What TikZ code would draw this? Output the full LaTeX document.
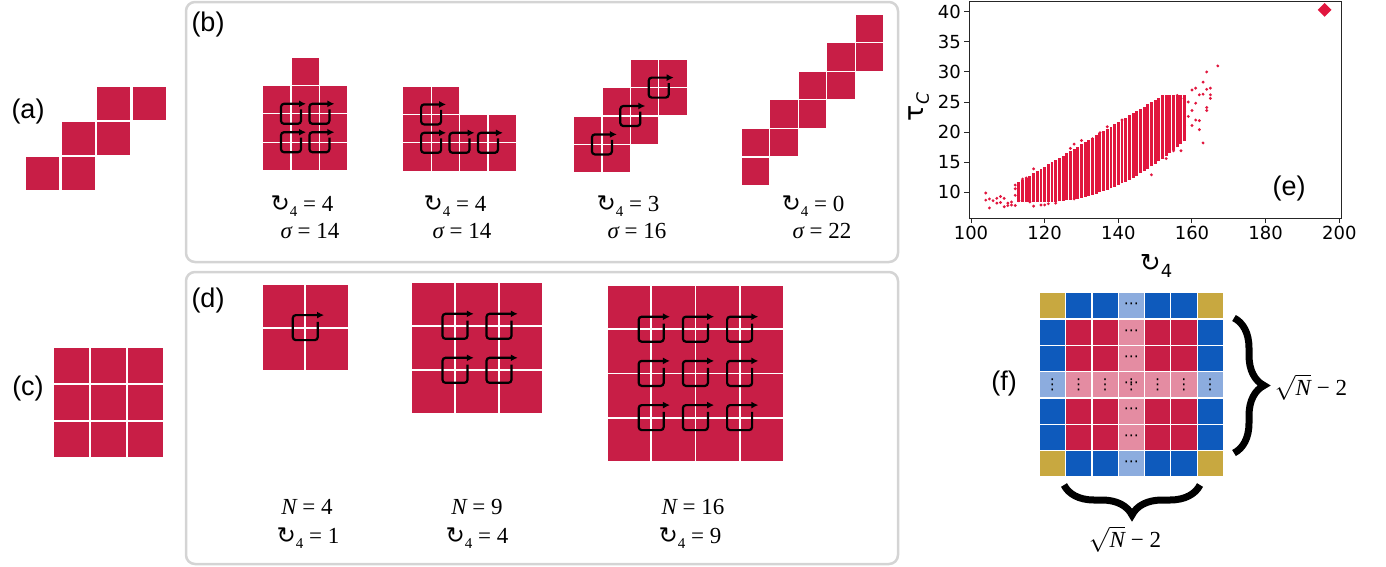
\documentclass[tikz,border=0pt]{standalone}
\usepackage{fontspec}
\usepackage{tikz}
\usetikzlibrary{positioning}
\usetikzlibrary{arrows.meta}
\usetikzlibrary{shapes.geometric}
\usetikzlibrary{decorations.pathreplacing}

\newfontfamily\tagfont{Liberation Sans}
\newfontfamily\plotfont{DejaVu Sans}
\newfontfamily\labelfont{Liberation Serif}
\newcommand{\spinsym}{{\plotfont ↻}}
\newcommand{\spinlbl}[1]{\spinsym\raisebox{-5pt}{\fontsize{15}{16}\selectfont #1}}
\newcommand{\rootlbl}{$\sqrt{\mbox{\itshape N}}$ − 2}

\definecolor{cellred}{RGB}{200,30,70}
\definecolor{plotred}{RGB}{225,22,62}
\definecolor{framegray}{RGB}{212,212,212}
\definecolor{edgeblue}{RGB}{14,90,188}
\definecolor{paleblue}{RGB}{140,172,222}
\definecolor{palepink}{RGB}{228,140,162}
\definecolor{cornergold}{RGB}{200,168,64}

\tikzset{
  cell/.style={fill=cellred, draw=white, line width=1.2pt},
  spinloop/.style={draw=black, line width=2.2pt, rounded corners=3pt, -{Latex[length=7pt,width=7pt]}},
  panelbox/.style={draw=framegray, line width=2.5pt, rounded corners=9pt},
  tag/.style={font=\tagfont\fontsize{27}{30}\selectfont, inner sep=0pt},
  lbl/.style={font=\labelfont\fontsize{23}{26}\selectfont, inner sep=0pt},
  ticklbl/.style={font=\plotfont\fontsize{18}{20}\selectfont, inner sep=3pt},
  dotbar/.style={draw=plotred, line width=2.9pt},
  bigbrace/.style={decorate, decoration={brace, amplitude=30pt}, line width=7pt},
  celldots/.style={font=\plotfont\fontsize{15}{16}\selectfont, inner sep=0pt},
}
% plaquette loop: centre x, centre y, half side
\newcommand{\plaquette}[3]{\draw[spinloop] (#1+#3,#2-0.45*#3) -- (#1+#3,#2+#3) -- (#1-#3,#2+#3) -- (#1-#3,#2-#3) -- (#1+1.5*#3,#2-#3);}

\begin{document}
\begin{tikzpicture}[x=1pt, y=-1pt]
\useasboundingbox (0,0) rectangle (1386,566);

% ---------- (a) and (c)
\node[tag] (tag-a) at (28,112) {(a)};
\foreach \c/\r in {0/2,1/2,1/1,2/1,2/0,3/0} {
    \draw[cell, line width=2.5pt] (25+35.5*\c,86+35*\r) rectangle ++(35.5,35);
}
\node[tag] (tag-c) at (28,389) {(c)};
\foreach \c in {0,1,2} {
    \foreach \r in {0,1,2} {
        \draw[cell, line width=1.8pt] (53+37*\c,347+37*\r) rectangle ++(37,37);
    }
}

% ---------- (b)
\draw[panelbox] (186,2) rectangle (898,262);
\node[tag] (tag-b) at (208,25) {(b)};
\foreach \c/\r in {1/0, 0/1,1/1,2/1, 0/2,1/2,2/2, 0/3,1/3,2/3} {
    \draw[cell] (262.6+28.4*\c,57+28.4*\r) rectangle ++(28.4,28.4); % first
}
\foreach \c/\r in {1/2,2/2,1/3,2/3} {
    \plaquette{262.6+28.4*\c}{57+28.4*\r}{10}
}
\foreach \c/\r in {0/0,1/0, 0/1,1/1,2/1,3/1, 0/2,1/2,2/2,3/2} {
    \draw[cell] (402.7+28.4*\c,86+28.4*\r) rectangle ++(28.4,28.4); % second
}
\foreach \c/\r in {1/1,1/2,2/2,3/2} {
    \plaquette{402.7+28.4*\c}{86+28.4*\r}{10}
}
\foreach \c/\r in {2/0,3/0, 1/1,2/1,3/1, 0/2,1/2,2/2, 0/3,1/3} {
    \draw[cell] (573.5+28.4*\c,59.2+28.4*\r) rectangle ++(28.4,28.4); % third
}
\foreach \c/\r in {3/1,2/2,1/3} {
    \plaquette{573.5+28.4*\c}{59.2+28.4*\r}{10}
}
\foreach \c in {0,...,4} {
    \draw[cell] (741+28.6*\c,14+28.6*4-28.6*\c) rectangle ++(28.6,28.6); % fourth
    \draw[cell] (741+28.6*\c,14+28.6*5-28.6*\c) rectangle ++(28.6,28.6);
}
\node[lbl] (b1-top) at (302,206) {\spinlbl{4} = 4};
\node[lbl] (b1-bot) at (310,231) {\itshape σ\upshape\ = 14};
\node[lbl] (b2-top) at (455,206) {\spinlbl{4} = 4};
\node[lbl] (b2-bot) at (462,231) {\itshape σ\upshape\ = 14};
\node[lbl] (b3-top) at (628,206) {\spinlbl{4} = 3};
\node[lbl] (b3-bot) at (637,231) {\itshape σ\upshape\ = 16};
\node[lbl] (b4-top) at (813,206) {\spinlbl{4} = 0};
\node[lbl] (b4-bot) at (822,231) {\itshape σ\upshape\ = 22};

% ---------- (d)
\draw[panelbox] (186,272) rectangle (898,564);
\node[tag] (tag-d) at (208,301) {(d)};
\foreach \c in {0,1} {
    \foreach \r in {0,1} {
        \draw[cell, line width=1.8pt] (261.7+43.6*\c,284+43.6*\r) rectangle ++(43.6,43.6);
    }
}
\plaquette{305.3}{327.6}{12.5}
\foreach \c in {0,1,2} {
    \foreach \r in {0,1,2} {
        \draw[cell, line width=1.8pt] (411+44*\c,282.3+44*\r) rectangle ++(44,44);
    }
}
\foreach \c in {1,2} {
    \foreach \r in {1,2} {
        \plaquette{411+44*\c}{282.3+44*\r}{12.5}
    }
}
\foreach \c in {0,...,3} {
    \foreach \r in {0,...,3} {
        \draw[cell, line width=1.8pt] (607+44.2*\c,285+44.2*\r) rectangle ++(44.2,44.2);
    }
}
\foreach \c in {1,2,3} {
    \foreach \r in {1,2,3} {
        \plaquette{607+44.2*\c}{285+44.2*\r}{12.5}
    }
}
\node[lbl] (d1-top) at (307,507) {\itshape N\upshape\ = 4};
\node[lbl] (d1-bot) at (308,538) {\spinlbl{4} = 1};
\node[lbl] (d2-top) at (477,507) {\itshape N\upshape\ = 9};
\node[lbl] (d2-bot) at (477,538) {\spinlbl{4} = 4};
\node[lbl] (d3-top) at (693,507) {\itshape N\upshape\ = 16};
\node[lbl] (d3-bot) at (690,538) {\spinlbl{4} = 9};

% ---------- (e) scatter
\begin{scope}[shift={(602.7,252.5)}, x=3.683pt, y=6.02pt]
\foreach \x in {113,...,158} {
    \pgfmathsetmacro\lo{8.4+0.007*max(\x-120,0)^2}
    \pgfmathsetmacro\hi{min(11.3+0.37*(\x-112),26.2)}
    \draw[dotbar] (\x,\lo) -- (\x,\hi);
}
\foreach \x/\t in {104/9.9,104/8.7,105/8.9,105/7.4,106/8.6,107/8.2,107/9.0,108/8.3,
    108/9.3,109/7.6,109/9.0,110/7.8,110/8.2,111/8.4,111/7.9,112/11.2,112/10.6,112/7.8,
    112/9.5,113/8.6,114/12.2,115/12.4,116/8.4,117/7.7,117/13.9,119/7.9,120/7.9,121/8.1,
    123/8.2,127/17.3,128/8.9,128/18.0,130/18.6,133/18.9,135/19.9,137/20.9,141/22.0,
    149/12.9,152/25.9,153/15.6,155/16.9,157/16.9,158/21.1,158/23.5,159/25.0,159/22.6,
    160/21.1,160/27.0,160/23.6,161/27.3,161/22.0,162/20.4,162/26.2,163/28.3,163/18.2,
    163/26.3,164/30.0,164/24.1,164/27.1,164/23.6,165/27.3,165/26.2,165/25.6,167/31.0,
    161/24.8,162/21.9,157/25.6,156/26.1} {
    \fill[plotred] (\x,\t) circle (1.6pt);
}
\node[diamond, fill=plotred, minimum size=14pt, inner sep=0pt] (best) at (196,40.3) {};
\draw[black!85, line width=1pt] (99.46,5.73) rectangle (200.65,41.77);
\foreach \x in {100,120,...,200} {
    \draw[black!85, line width=1pt] (\x,5.73) -- (\x,4.9);
    \node[ticklbl, anchor=north] (xt\x) at (\x,4.9) {\x};
}
\foreach \t in {10,15,...,40} {
    \draw[black!85, line width=1pt] (99.46,\t) -- (98.1,\t);
    \node[ticklbl, anchor=east] (yt\t) at (98.1,\t) {\t};
}
\end{scope}
\node[rotate=90, font=\plotfont\fontsize{27}{30}\selectfont] (ylab) at (919,107)
    {τ\raisebox{-5pt}{\fontsize{17}{20}\selectfont\itshape C}};
\node[font=\plotfont\fontsize{25}{28}\selectfont] (xlab) at (1156,266)
    {↻\raisebox{-6pt}{\fontsize{18}{20}\selectfont 4}};
\node[tag] (tag-e) at (1289,189) {(e)};

% ---------- (f)
\node[tag] (tag-f) at (1004,384) {(f)};
\foreach \i in {0,...,6} {
    \foreach \j in {0,...,6} {
        \pgfmathtruncatemacro\rimk{(\i==0||\i==6)+(\j==0||\j==6)}
        \pgfmathtruncatemacro\midk{(\i==3||\j==3)}
        \ifcase\rimk
            \ifnum\midk=1 \def\cc{palepink}\else\def\cc{cellred}\fi
        \or
            \ifnum\midk=1 \def\cc{paleblue}\else\def\cc{edgeblue}\fi
        \else
            \def\cc{cornergold}
        \fi
        \draw[cell, fill=\cc] (1039.3+26.3*\i,292.7+26.3*\j) rectangle ++(26.3,26.3);
    }
}
\foreach \j in {0,1,2,4,5,6} {
    \node[celldots] (hd\j) at (1039.3+26.3*3.5,292.7+26.3*\j+13.2) {⋯};
}
\foreach \i in {0,1,2,4,5,6} {
    \node[celldots] (vd\i) at (1039.3+26.3*\i+13.1,292.7+26.3*3.5) {⋮};
}
\node[celldots] (ch) at (1039.3+26.3*3.5,292.7+26.3*3.5) {⋯};
\node[celldots] (cv) at (1039.3+26.3*3.5,292.7+26.3*3.5) {⋮};
\coordinate (br-top) at (1234,318);
\coordinate (br-bot) at (1234,453);
\draw[bigbrace] (br-top) -- (br-bot);
\coordinate (bb-right) at (1200,485);
\coordinate (bb-left) at (1064,485);
\draw[bigbrace] (bb-right) -- (bb-left);
\node[lbl] (f-right) at (1311,387) {\rootlbl};
\node[lbl] (f-bot) at (1125,539) {\rootlbl};
\end{tikzpicture}
\end{document}
